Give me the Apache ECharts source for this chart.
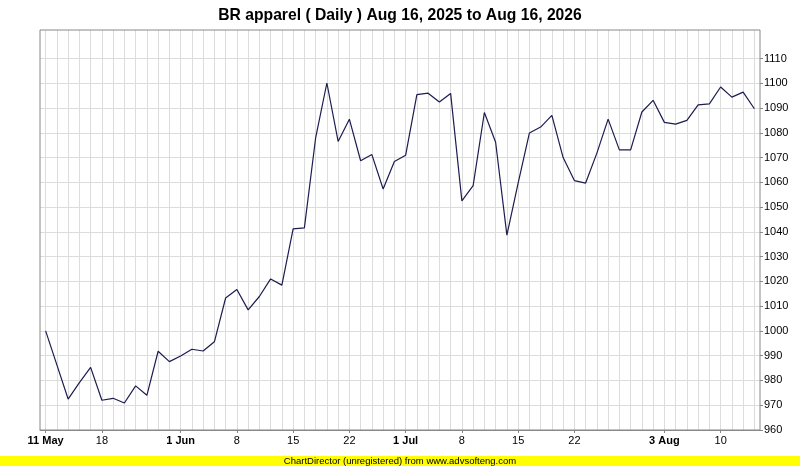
<!DOCTYPE html>
<html>
<head>
<meta charset="utf-8">
<script src="https://cdn.jsdelivr.net/npm/echarts@6/dist/echarts.min.js"></script>
<style>html,body{margin:0;padding:0;background:#fff;}#c{width:800px;height:466px;}</style>
</head>
<body>
<div id="c"></div>
<script>
var titleText = 'BR apparel ( Daily ) Aug 16, 2025 to Aug 16, 2026';
var footerText = 'ChartDirector (unregistered) from www.advsofteng.com';
var values = [
  1000, 986.3, 972.5, 979.1, 985.3, 972.0, 972.8, 970.9, 977.8, 974.0,
  991.8, 987.6, 989.9, 992.6, 991.9, 995.6, 1013.3, 1016.7, 1008.5, 1013.9,
  1021.0, 1018.5, 1041.2, 1041.6, 1077.9, 1100.1, 1076.5, 1085.5, 1068.7, 1071.2,
  1057.3, 1068.4, 1070.9, 1095.4, 1096.0, 1092.4, 1095.9, 1052.5, 1058.7, 1088.2,
  1076.2, 1038.7, 1059.7, 1079.9, 1082.3, 1087.0, 1070.0, 1060.7, 1059.7, 1071.8,
  1085.5, 1073.1, 1073.1, 1088.4, 1093.1, 1084.2, 1083.5, 1085.0, 1091.3, 1091.7,
  1098.5, 1094.4, 1096.4, 1089.7
];
var tickIndex = [0, 5, 12, 17, 22, 27, 32, 37, 42, 47, 55, 60];
var tickLabels = ['11 May', '18', '1 Jun', '8', '15', '22', '1 Jul', '8', '15', '22', '3 Aug', '10'];
var boldLabels = ['11 May', '1 Jun', '1 Jul', '3 Aug'];
var yMin = 960, yMax = 1121.5, yLabelMax = 1110, yStep = 10;

var categories = values.map(function (v, i) {
  var k = tickIndex.indexOf(i);
  return k >= 0 ? tickLabels[k] : 'd' + i;
});
function isTick(i) { return tickIndex.indexOf(i) >= 0; }

// layout
var W = 800, H = 466;
var gL = 40, gR = 40, gT = 30, gB = 36;
var plotW = W - gL - gR, plotH = H - gT - gB;
var half = plotW / values.length / 2;
var labelTop = gT + plotH * (yMax - yLabelMax) / (yMax - yMin);

var font = 'Liberation Sans';
var hidden = {show: false};

var chart = echarts.init(document.getElementById('c'), null, {renderer: 'canvas'});
chart.setOption({
  animation: false,
  backgroundColor: '#ffffff',
  title: {
    text: titleText, left: 'center', top: 3,
    textStyle: {fontFamily: font, fontSize: 15.7, fontWeight: 'bold', color: '#000'}
  },
  grid: [
    {left: gL, right: gR, top: gT, bottom: gB, show: true, borderColor: '#888', borderWidth: 1, backgroundColor: 'transparent', z: 3},
    {left: gL + half, right: gR + half, top: gT, bottom: gB},
    {left: gL, right: gR, top: labelTop, bottom: gB}
  ],
  xAxis: [
    {
      gridIndex: 0, type: 'category', data: categories, boundaryGap: true,
      axisLine: {show: true, onZero: false, lineStyle: {color: '#888', width: 1}},
      axisTick: {show: true, alignWithLabel: true, length: 3, interval: function (i) { return isTick(i); }, lineStyle: {color: '#888'}},
      splitLine: hidden,
      axisLabel: {
        interval: function (i) { return isTick(i); }, margin: 5,
        fontFamily: font, fontSize: 11, color: '#000',
        formatter: function (v) { return boldLabels.indexOf(v) >= 0 ? '{b|' + v + '}' : v; },
        rich: {b: {fontFamily: font, fontSize: 11, fontWeight: 'bold', color: '#000'}}
      }
    },
    {
      gridIndex: 1, type: 'value', min: 0, max: values.length - 1, interval: 1,
      axisLine: {show: false, onZero: false}, axisTick: hidden, axisLabel: hidden,
      splitLine: {show: true, lineStyle: {color: '#dcdcdc', width: 1}}
    },
    {
      gridIndex: 2, type: 'value', min: 0, max: 1,
      axisLine: {show: false, onZero: false}, axisTick: hidden, axisLabel: hidden, splitLine: hidden
    }
  ],
  yAxis: [
    {
      gridIndex: 0, type: 'value', min: yMin, max: yMax,
      axisLine: {show: false, onZero: false}, axisTick: hidden, axisLabel: hidden, splitLine: hidden
    },
    {
      gridIndex: 1, type: 'value', min: 0, max: 1,
      axisLine: {show: false, onZero: false}, axisTick: hidden, axisLabel: hidden, splitLine: hidden
    },
    {
      gridIndex: 2, type: 'value', position: 'right', min: yMin, max: yLabelMax, interval: yStep,
      axisLine: {show: false, onZero: false},
      axisTick: {show: true, length: 3, lineStyle: {color: '#888'}},
      splitLine: {show: true, lineStyle: {color: '#dcdcdc', width: 1}},
      axisLabel: {margin: 4, fontFamily: font, fontSize: 11, color: '#000',
        formatter: function (v) { return String(v); }}
    }
  ],
  series: [{
    type: 'line', xAxisIndex: 0, yAxisIndex: 0, data: values, showSymbol: false, symbol: 'none', z: 5,
    lineStyle: {color: '#1c1c50', width: 1.2}, itemStyle: {color: '#1c1c50'}
  }],
  graphic: [
    {type: 'rect', left: 0, top: 456, shape: {width: W, height: 10}, style: {fill: '#ffff00'}, silent: true},
    {type: 'text', left: 'center', top: 456.5, style: {text: footerText, fontFamily: font, fontSize: 9.5, fill: '#000'}, silent: true}
  ]
});
</script>
</body>
</html>
